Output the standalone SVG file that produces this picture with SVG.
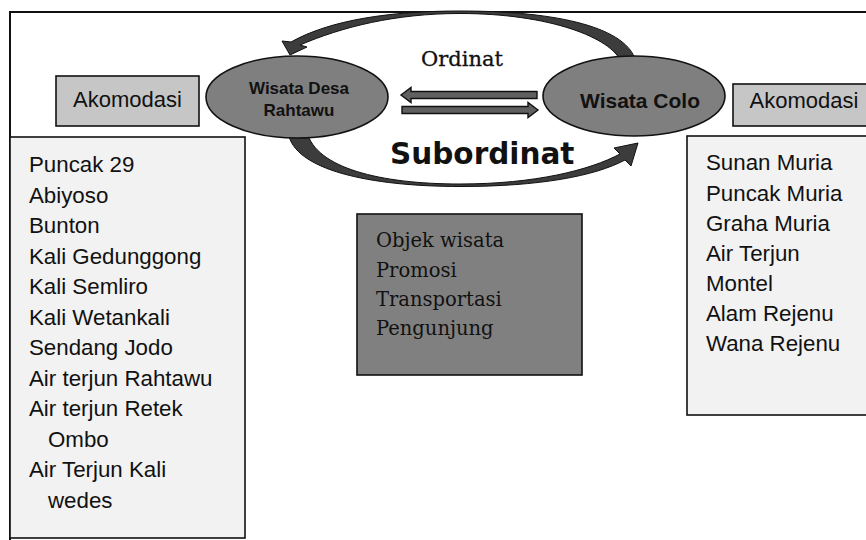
<svg xmlns="http://www.w3.org/2000/svg" width="866" height="540" viewBox="0 0 866 540">
<style>
.sans{font-family:"Liberation Sans",Arial,sans-serif;fill:#111}
.serif{font-family:"DejaVu Serif","Liberation Serif",serif;fill:#111}
.list{font-size:22.3px}
.box{stroke:#111;stroke-width:1.6}
.lt{fill:#f2f2f2}
.ak{fill:#c6c6c6}
.ell{fill:#7f7f7f;stroke:#111;stroke-width:1.6}
.arc{fill:#3c3c3c;stroke:#111;stroke-width:1;stroke-linejoin:round}
.blk{fill:#606060;stroke:#111;stroke-width:1.4;stroke-linejoin:miter}
</style>
<rect width="866" height="540" fill="#fff"/>
<g id="frame" fill="none" stroke="#111" stroke-width="2">
<path d="M10,540 V12 H866"/>
</g>
<g id="list-left">
<rect class="box lt" x="10" y="137" width="235" height="401"/>
<g class="sans list">
<text x="29" y="172">Puncak 29</text>
<text x="29" y="202.5">Abiyoso</text>
<text x="29" y="233">Bunton</text>
<text x="29" y="263.5">Kali Gedunggong</text>
<text x="29" y="294">Kali Semliro</text>
<text x="29" y="324.5">Kali Wetankali</text>
<text x="29" y="355">Sendang Jodo</text>
<text x="29" y="385.5">Air terjun Rahtawu</text>
<text x="29" y="416">Air terjun Retek</text>
<text x="48" y="446.5">Ombo</text>
<text x="29" y="477">Air Terjun Kali</text>
<text x="48" y="507.5">wedes</text>
</g>
</g>
<g id="list-right">
<rect class="box lt" x="687" y="136" width="185" height="279"/>
<g class="sans list">
<text x="706" y="170">Sunan Muria</text>
<text x="706" y="200.5">Puncak Muria</text>
<text x="706" y="231">Graha Muria</text>
<text x="706" y="261">Air Terjun</text>
<text x="706" y="291">Montel</text>
<text x="706" y="321">Alam Rejenu</text>
<text x="706" y="351">Wana Rejenu</text>
</g>
</g>
<g id="center-box">
<rect class="box" fill="#808080" x="357" y="214" width="225" height="161"/>
<g class="serif" font-size="19.5">
<text x="376" y="247">Objek wisata</text>
<text x="376" y="277">Promosi</text>
<text x="376" y="306">Transportasi</text>
<text x="376" y="335">Pengunjung</text>
</g>
</g>
<g id="akomodasi-left">
<rect class="box ak" x="56" y="76" width="143" height="50"/>
<text class="sans" font-size="22" x="127.5" y="107" text-anchor="middle">Akomodasi</text>
</g>
<g id="akomodasi-right">
<rect class="box ak" x="733" y="84" width="140" height="42"/>
<text class="sans" font-size="22" x="804" y="108" text-anchor="middle">Akomodasi</text>
</g>
<g id="connectors">
<path class="arc" d="M290,55 L282,41 L291,42 C330,20 390,11 460,11 C560,11 628,28 636,62 L621,62 C612,38 550,13.5 460,13.5 C395,13.5 342,27 300,45 L307,47 Z"/>
<path class="arc" d="M288,132 C293,170 370,186.5 460,186.5 C540,186.5 595,176 625,160 L631,166 L638,143 L614,148 L620,154 C590,170 535,184 460,184 C380,184 316,168 307,132 Z"/>
<path class="blk" d="M401,95 L411,87.5 V91.5 H537 V98.5 H411 V102.5 Z"/>
<path class="blk" d="M538,110 L528,102.5 V106.5 H402 V113.5 H528 V117.5 Z"/>
<text class="serif" font-size="21" x="421" y="66" stroke="#111" stroke-width="0.3">Ordinat</text>
<text class="sans" font-size="29.5" font-weight="bold" x="390" y="164" style="font-family:'DejaVu Sans',Verdana,sans-serif">Subordinat</text>
</g>
<g id="node-rahtawu">
<ellipse class="ell" cx="297" cy="97" rx="91" ry="41"/>
<text class="sans" font-size="17" font-weight="bold" x="299" y="94" text-anchor="middle">Wisata Desa</text>
<text class="sans" font-size="17" font-weight="bold" x="299" y="116" text-anchor="middle">Rahtawu</text>
</g>
<g id="node-colo">
<ellipse class="ell" cx="634" cy="96" rx="91" ry="40"/>
<text class="sans" font-size="21" font-weight="bold" x="640" y="108" text-anchor="middle">Wisata Colo</text>
</g>
</svg>
